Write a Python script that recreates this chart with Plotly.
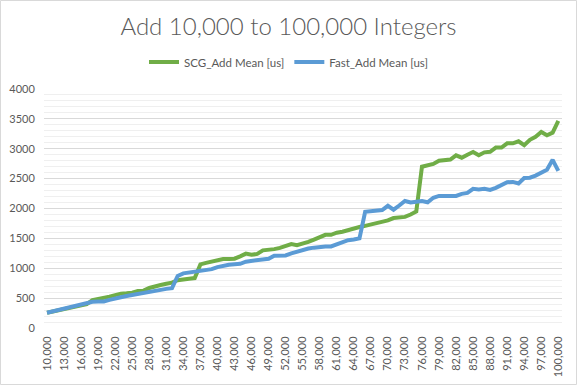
import plotly.graph_objects as go

sizes = list(range(10000, 100001, 1000))

scg_add = [255, 275, 295, 315, 335, 360, 380, 400, 465, 480,
           505, 525, 550, 575, 580, 590, 620, 625, 670, 700,
           720, 740, 760, 800, 820, 825, 835, 1065, 1090, 1110,
           1130, 1155, 1155, 1160, 1200, 1245, 1225, 1240, 1300, 1305,
           1320, 1340, 1370, 1405, 1385, 1410, 1440, 1480, 1520, 1560,
           1560, 1595, 1610, 1640, 1660, 1690, 1710, 1730, 1750, 1780,
           1800, 1840, 1850, 1860, 1900, 1950, 2700, 2730, 2745, 2800,
           2810, 2820, 2890, 2850, 2900, 2945, 2890, 2940, 2950, 3020,
           3020, 3090, 3090, 3125, 3060, 3150, 3200, 3280, 3225, 3270,
           3465]

fast_add = [255, 280, 300, 320, 342, 365, 395, 430, 440, 442,
            445, 470, 498, 515, 535, 554, 565, 580, 600, 625,
            640, 655, 667, 870, 915, 930, 930, 950, 965, 985,
            1020, 1045, 1060, 1068, 1075, 1110, 1120, 1125, 1145, 1160,
            1210, 1210, 1215, 1250, 1280, 1310, 1330, 1345, 1360, 1365,
            1365, 1405, 1430, 1470, 1480, 1500, 1945, 1955, 1970, 1975,
            2045, 1980, 2050, 2125, 2100, 2110, 2125, 2105, 2180, 2210,
            2205, 2205, 2210, 2245, 2260, 2330, 2320, 2330, 2310, 2345,
            2400, 2440, 2445, 2420, 2510, 2515, 2550, 2600, 2650, 2815,
            2630]

x_ticks = list(range(10000, 100001, 3000))

FONT = "Lato"
GREY = "#595959"

fig = go.Figure()
fig.add_trace(go.Scatter(x=sizes, y=scg_add, mode="lines", name="SCG_Add Mean [us]",
                         line=dict(color="#70AD47", width=4)))
fig.add_trace(go.Scatter(x=sizes, y=fast_add, mode="lines", name="Fast_Add Mean [us]",
                         line=dict(color="#5B9BD5", width=4)))

W, H = 577, 385
L, R, T, B = 44, 15, 89, 57
pw, ph = W - L - R, H - T - B

fig.update_layout(
    width=W, height=H,
    margin=dict(l=L, r=R, t=T, b=B, autoexpand=False),
    paper_bgcolor="white", plot_bgcolor="white",
    font=dict(family=FONT, color=GREY, size=11),
    title=dict(text="Add 10,000 to 100,000 Integers", x=0.5, xanchor="center",
               xref="container", y=1 - 27 / H, yref="container", yanchor="middle",
               font=dict(family=FONT, size=24, color=GREY, weight=300)),
    legend=dict(orientation="h", x=0.5, xanchor="center", xref="container",
                y=1 - 62 / H, yref="container", yanchor="middle",
                font=dict(family=FONT, size=11.5, color=GREY),
                itemwidth=30, tracegroupgap=0),
    showlegend=True,
    shapes=[dict(type="rect", xref="paper", yref="paper",
                 x0=-(L - 0.5) / pw, x1=1 + (R - 0.5) / pw,
                 y0=-(B - 0.5) / ph, y1=1 + (T - 0.5) / ph,
                 line=dict(color="#d9d9d9", width=1), layer="below")],
)

fig.update_xaxes(range=[9470, 100650], tickvals=x_ticks, tickformat=",",
                 tickangle=-90, showgrid=False, zeroline=False, showline=False,
                 ticks="outside", ticklen=3, tickcolor="white",
                 tickfont=dict(family=FONT, size=11, color=GREY))
fig.update_yaxes(range=[0, 4000], dtick=500, showgrid=True, gridcolor="#d9d9d9",
                 gridwidth=1, zeroline=False, showline=False,
                 ticks="outside", ticklen=6, tickcolor="white",
                 tickfont=dict(family=FONT, size=11, color=GREY),
                 minor=dict(dtick=100, showgrid=True, gridcolor="#efefef", gridwidth=1))

fig.write_html("out.html", config={"displayModeBar": False},
               post_script="document.body.style.margin='0';document.body.style.padding='0';")
